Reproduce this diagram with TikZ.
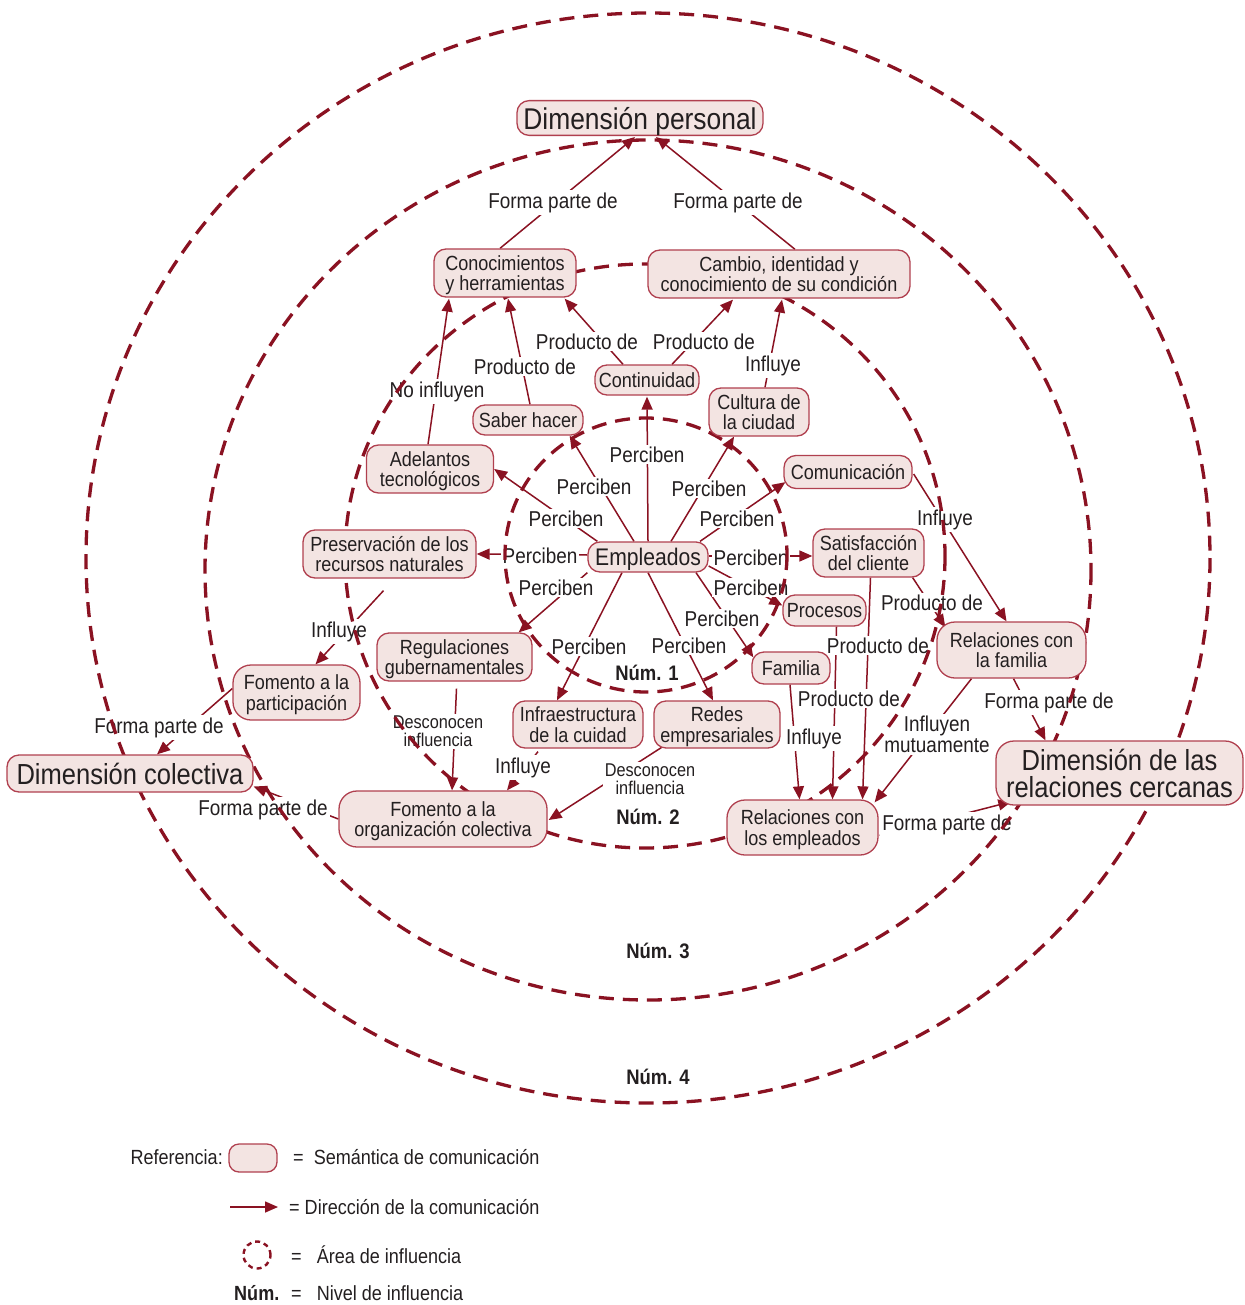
\documentclass[tikz,border=0pt]{standalone}
\usepackage{fontspec}
\setmainfont{Liberation Sans}[FakeStretch=0.88]
\usetikzlibrary{arrows.meta}
\definecolor{dred}{HTML}{8A1222}
\definecolor{nborder}{HTML}{B0404F}
\definecolor{nfill}{HTML}{F3E4E2}
\definecolor{txt}{HTML}{231F20}
\pgfdeclarelayer{edges}
\pgfdeclarelayer{labels}
\pgfdeclarelayer{circles}
\pgfsetlayers{edges,labels,circles,main}
\newcommand\lowr{\rule{0pt}{0.95em}}
\begin{document}
\begin{tikzpicture}[x=1pt,y=-1pt,
  concept/.style={draw=nborder, fill=nfill, line width=1.3pt, rounded corners=12pt,
    align=center, inner sep=0pt, text=txt, font=\fontsize{20.5}{20.5}\selectfont},
  big/.style={rounded corners=18pt},
  lbl/.style={fill=white, inner sep=2pt, text=txt, align=center, yshift=-1.5pt,
    font=\fontsize{21.5}{21}\selectfont},
  slbl/.style={lbl, font=\fontsize{18.5}{18}\selectfont},
  arr/.style={draw=dred, line width=1.5pt, -{Triangle[length=13pt,width=11pt]}},
  circ/.style={draw=dred, line width=3.3pt, dash pattern=on 15pt off 9pt},
  num/.style={font=\bfseries\fontsize{21}{21}\selectfont, text=txt},
  legtext/.style={text=txt, font=\fontsize{20.5}{20.5}\selectfont, inner sep=0pt, anchor=west}
]
\useasboundingbox (0,0) rectangle (1244,1305);

% ---------- concept nodes ----------
\node[concept, font=\fontsize{30}{30}\selectfont, minimum width=246pt, minimum height=34pt] (DP) at (640,118) {\lowr Dimensión personal};
\node[concept, minimum width=142pt, minimum height=48pt] (Con) at (505,273) {\lowr Conocimientos\\y herramientas};
\node[concept, minimum width=262pt, minimum height=48pt] (Cam) at (779,274) {Cambio, identidad y\\conocimiento de su condición};
\node[concept, minimum width=104pt, minimum height=30pt] (Cont) at (647,380) {Continuidad};
\node[concept, minimum width=110pt, minimum height=30pt] (Sab) at (528,420) {Saber hacer};
\node[concept, minimum width=100pt, minimum height=48pt] (Cul) at (759,412) {Cultura de\\la ciudad};
\node[concept, minimum width=127pt, minimum height=48pt] (Ade) at (430,469) {\lowr Adelantos\\tecnológicos};
\node[concept, minimum width=128pt, minimum height=33pt] (Com) at (848,472) {Comunicación};
\node[concept, minimum width=173pt, minimum height=48pt] (Pre) at (389.5,554) {Preservación de los\\recursos naturales};
\node[concept, font=\fontsize{24}{24}\selectfont, minimum width=120pt, minimum height=30pt] (Emp) at (648,557) {\lowr Empleados};
\node[concept, minimum width=111pt, minimum height=48pt] (Sat) at (868.5,553) {Satisfacción\\del cliente};
\node[concept, minimum width=83pt, minimum height=31pt] (Pro) at (824.5,610.5) {Procesos};
\node[concept, minimum width=155pt, minimum height=48pt] (Reg) at (454.5,657) {\lowr Regulaciones\\gubernamentales};
\node[concept, minimum width=78pt, minimum height=32pt] (Fam) at (791,668) {Familia};
\node[concept, big, minimum width=149pt, minimum height=56pt] (RFa) at (1011.5,650) {Relaciones con\\la familia};
\node[concept, big, minimum width=127pt, minimum height=55pt] (FPa) at (296.5,692.5) {\lowr Fomento a la\\participación};
\node[concept, minimum width=130pt, minimum height=47pt] (Inf) at (578,724.5) {Infraestructura\\de la cuidad};
\node[concept, minimum width=126pt, minimum height=47pt] (Red) at (717,724.5) {\lowr Redes\\empresariales};
\node[concept, font=\fontsize{29}{29}\selectfont, minimum width=246pt, minimum height=37pt] (DC) at (130,773.5) {Dimensión colectiva};
\node[concept, big, font=\fontsize{29}{27}\selectfont, minimum width=247pt, minimum height=64pt] (DRC) at (1119.5,773) {Dimensión de las\\relaciones cercanas};
\node[concept, big, minimum width=208pt, minimum height=56pt] (FOr) at (443,819) {\lowr Fomento a la\\organización colectiva};
\node[concept, big, minimum width=151pt, minimum height=55pt] (REm) at (802.5,827.5) {\lowr Relaciones con\\los empleados};

% ---------- level numbers ----------
\node[num] (n1) at (647,673) {Núm. 1};
\node[num] (n2) at (648,817) {Núm. 2};
\node[num] (n3) at (658,951) {Núm. 3};
\node[num] (n4) at (658,1077) {Núm. 4};

% ---------- linking labels ----------
\begin{pgfonlayer}{labels}
\node[lbl] (l1) at (553,201) {Forma parte de};
\node[lbl] (l2) at (738,201) {Forma parte de};
\node[lbl] (l3) at (587,340) {Producto de};
\node[lbl] (l4) at (704,340) {Producto de};
\node[lbl] (l5) at (525,365) {Producto de};
\node[lbl] (l6) at (437,390) {No influyen};
\node[lbl] (l7) at (773,364) {Influye};
\node[lbl] (p1) at (647,453) {Perciben};
\node[lbl] (p2) at (594,485) {Perciben};
\node[lbl] (p3) at (566,517) {Perciben};
\node[lbl] (p4) at (540,554) {Perciben};
\node[lbl] (p5) at (556,586) {Perciben};
\node[lbl] (p6) at (589,645) {Perciben};
\node[lbl] (p7) at (689,644) {Perciben};
\node[lbl] (p8) at (722,617) {Perciben};
\node[lbl] (p9) at (751,586) {Perciben};
\node[lbl] (p10) at (751,556) {Perciben};
\node[lbl] (p11) at (737,517) {Perciben};
\node[lbl] (p12) at (709,487) {Perciben};
\node[lbl] (l20) at (945,518) {Influye};
\node[lbl] (l21) at (932,601) {Producto de};
\node[lbl] (l22) at (878,644) {Producto de};
\node[lbl] (l23) at (849,697) {Producto de};
\node[lbl] (l24) at (814,737) {Influye};
\node[lbl] (l25) at (937,733) {Influyen\\mutuamente};
\node[lbl] (l26) at (1049,701) {Forma parte de};
\node[lbl] (l27) at (947,823) {Forma parte de};
\node[lbl] (l28) at (339,630) {Influye};
\node[lbl] (l29) at (159,726) {Forma parte de};
\node[lbl] (l30) at (263,808) {Forma parte de};
\node[slbl] (l31) at (438,730) {Desconocen\\influencia};
\node[lbl] (l32) at (523,766) {Influye};
\node[slbl] (l33) at (650,778) {Desconocen\\influencia};
\end{pgfonlayer}

% ---------- connectors ----------
\begin{pgfonlayer}{edges}
\draw[arr] ([shift={(-5,0)}]Con.north) -- ([shift={(-5,1)}]DP.south);
\draw[arr] ([shift={(16,0)}]Cam.north) -- ([shift={(16,1)}]DP.south);
\draw[arr] ([shift={(-24,0)}]Cont.north) -- ([shift={(-12,1)}]Con.south east);
\draw[arr] ([shift={(25,0)}]Cont.north) -- ([shift={(-46,1)}]Cam.south);
\draw[arr] ([shift={(2,0)}]Sab.north) -- ([shift={(3,1)}]Con.south);
\draw[arr] ([shift={(-2,0)}]Ade.north) -- ([shift={(-56,1)}]Con.south);
\draw[arr] ([shift={(6,0)}]Cul.north) -- ([shift={(3,1)}]Cam.south);
% Empleados
\draw[arr] (Emp.north) -- ([shift={(0,1)}]Cont.south);
\draw[arr] ([shift={(-14,0)}]Emp.north) -- ([shift={(-14,0)}]Sab.south east);
\draw[arr] ([shift={(10,0)}]Emp.north west) -- (Ade.east);
\draw[arr] ([shift={(0,-2)}]Emp.west) -- (Pre.east);
\draw[arr] (Emp.south west) -- ([shift={(-14,0)}]Reg.north east);
\draw[arr] ([shift={(-26,0)}]Emp.south) -- ([shift={(-21,0)}]Inf.north);
\draw[arr] (Emp.south) -- ([shift={(-4,0)}]Red.north);
\draw[arr] ([shift={(48,0)}]Emp.south) -- ([shift={(2,6)}]Fam.north west);
\draw[arr] ([shift={(0,9)}]Emp.east) -- ([shift={(0,-5)}]Pro.west);
\draw[arr] ([shift={(0,-1)}]Emp.east) -- ([shift={(0,3)}]Sat.west);
\draw[arr] ([shift={(52,0)}]Emp.north) -- ([shift={(2,-7)}]Com.south west);
\draw[arr] ([shift={(23,0)}]Emp.north) -- ([shift={(-25,0)}]Cul.south);
% right side
\draw[arr] ([shift={(1,2)}]Com.east) -- ([shift={(-5,0)}]RFa.north);
\draw[arr] ([shift={(-12,0)}]Sat.south east) -- ([shift={(9,6)}]RFa.north west);
\draw[arr] ([shift={(2,0)}]Sat.south) -- ([shift={(60,0)}]REm.north);
\draw[arr] ([shift={(12,0)}]Pro.south) -- ([shift={(30,0)}]REm.north);
\draw[arr] ([shift={(-1,0)}]Fam.south) -- ([shift={(-3,0)}]REm.north);
\draw[arr] ([shift={(-40,0)}]RFa.south) -- ([shift={(-4,3)}]REm.north east);
\draw[arr] ([shift={(2,0)}]RFa.south) -- ([shift={(-74,0)}]DRC.north);
\draw[arr] ([shift={(1,8)}]REm.east) -- ([shift={(16,-4)}]DRC.south west);
% left side
\draw[arr] ([shift={(-6,12)}]Pre.south) -- ([shift={(19,0)}]FPa.north);
\draw[arr] ([shift={(0,-4)}]FPa.west) -- ([shift={(27,0)}]DC.north);
\draw[arr] (FOr.west) -- ([shift={(0,13)}]DC.east);
\draw[arr] ([shift={(2,7)}]Reg.south) -- ([shift={(9,0)}]FOr.north);
\draw[arr] ([shift={(-40,3)}]Inf.south) -- ([shift={(64,0)}]FOr.north);
\draw[arr] ([shift={(11,-3)}]Red.south west) -- ([shift={(1,1)}]FOr.east);
\end{pgfonlayer}

% ---------- areas of influence ----------
\begin{pgfonlayer}{circles}
\draw[circ] (646,555) ellipse [x radius=141, y radius=137];
\draw[circ] (645,556) ellipse [x radius=300, y radius=292];
\draw[circ] (648,570) ellipse [x radius=443, y radius=430];
\draw[circ] (648,558) ellipse [x radius=562, y radius=545];
\end{pgfonlayer}

% ---------- legend ----------
\node[legtext, anchor=east] (r0) at (223,1157) {Referencia:};
\node[draw=nborder, fill=nfill, line width=1.3pt, rounded corners=10pt, minimum width=48pt, minimum height=28pt, inner sep=0pt] (r1) at (253,1158) {};
\node[legtext] (r2) at (293,1157) {=\ \ Semántica de comunicación};
\coordinate (a1) at (230,1207);
\coordinate (a2) at (278,1207);
\draw[arr] (a1) -- (a2);
\node[legtext] (r3) at (289,1207) {=\ Dirección de la comunicación};
\node[draw=dred, line width=2.4pt, dash pattern=on 5pt off 4pt, circle, minimum size=27pt, inner sep=0pt] (r4) at (257,1255) {};
\node[legtext] (r5) at (291,1255) {=\ \ \ Área de influencia};
\node[legtext, font=\bfseries\fontsize{20.5}{20.5}\selectfont] (r6) at (234,1293) {Núm.};
\node[legtext] (r7) at (291,1293) {=\ \ \ Nivel de influencia};
\end{tikzpicture}
\end{document}
